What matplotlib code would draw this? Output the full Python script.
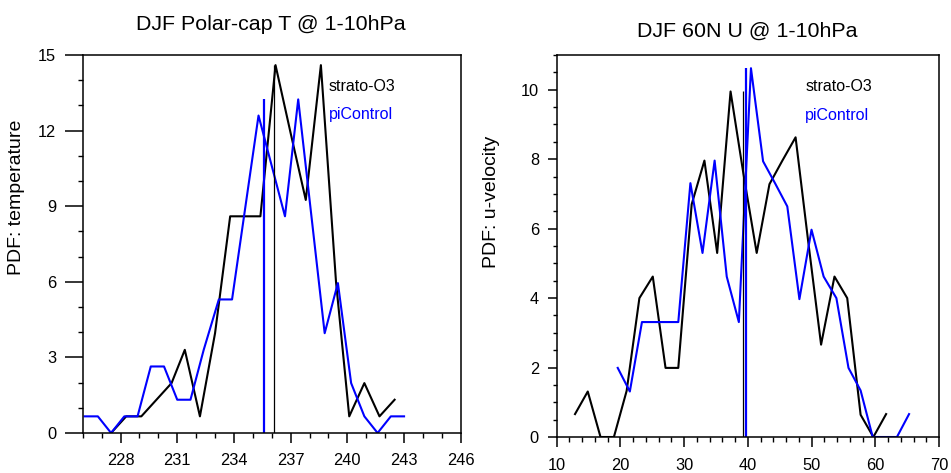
import matplotlib

matplotlib.use("Agg")
import matplotlib.pyplot as plt
import numpy as np

plt.rcParams["font.family"] = ["Liberation Sans", "DejaVu Sans"]

# left panel: DJF polar-cap temperature PDF
t_o3_x = [227.5, 228.3, 229.1, 229.9, 230.7, 231.4, 232.2, 233.0, 233.8, 234.6,
          235.4, 236.2, 237.0, 237.8, 238.6, 239.4, 240.1, 240.9, 241.7, 242.5]
t_o3_y = [0, 0.66, 0.66, 1.32, 1.98, 3.3, 0.66, 3.96, 8.6, 8.6,
          8.6, 14.6, 11.9, 9.25, 14.6, 6.0, 0.66, 1.98, 0.66, 1.32]
t_pi_x = [226.1, 226.8, 227.5, 228.2, 228.9, 229.6, 230.3, 231.0, 231.7, 232.4,
          233.2, 233.9, 234.6, 235.3, 236.0, 236.7, 237.4, 238.1, 238.8, 239.5,
          240.2, 240.9, 241.6, 242.3, 243.0]
t_pi_y = [0.66, 0.66, 0, 0.66, 0.66, 2.64, 2.64, 1.32, 1.32, 3.3,
          5.3, 5.3, 8.95, 12.6, 10.6, 8.6, 13.24, 8.6, 3.96, 5.95,
          1.98, 0.66, 0, 0.66, 0.66]
t_means = [236.1, 235.6]  # strato-O3, piControl

# right panel: DJF 60N zonal wind PDF
u_o3_x = [12.9, 14.9, 16.9, 19.0, 21.0, 23.0, 25.1, 27.1, 29.1, 31.2,
          33.2, 35.2, 37.3, 39.3, 41.4, 43.4, 45.4, 47.5, 49.5, 51.5,
          53.6, 55.6, 57.7, 59.7, 61.7]
u_o3_y = [0.66, 1.31, 0, 0, 1.33, 4.0, 4.62, 1.99, 1.99, 6.7,
          7.96, 5.3, 9.95, 7.6, 5.3, 7.28, 7.95, 8.63, 5.6, 2.66,
          4.62, 4.0, 0.64, 0, 0.66]
u_pi_x = [19.6, 21.5, 23.4, 25.3, 27.2, 29.1, 31.0, 32.9, 34.8, 36.7,
          38.6, 40.5, 42.4, 44.3, 46.2, 48.1, 50.0, 51.9, 53.9, 55.8,
          57.7, 59.6, 61.5, 63.4, 65.3]
u_pi_y = [1.99, 1.31, 3.31, 3.31, 3.31, 3.31, 7.31, 5.3, 7.96, 4.62,
          3.31, 10.62, 7.94, 7.3, 6.64, 3.97, 5.97, 4.62, 4.0, 1.99,
          1.34, 0, 0, 0, 0.66]
u_means = [39.25, 39.67]

BLUE = "#0000ff"

fig = plt.figure(figsize=(9.51, 4.73), dpi=100)
axL = fig.add_axes([0.087, 0.0846, 0.3975, 0.799])
axR = fig.add_axes([0.5852, 0.0761, 0.4022, 0.8076])


def draw(ax, xo, yo, xp, yp, means):
    ax.plot(xo, yo, color="black", lw=1.5)
    ax.plot(xp, yp, color=BLUE, lw=1.5)
    ax.vlines(means[0], 0, max(yo), color="black", lw=0.9)
    ax.vlines(means[1], 0, max(yp), color=BLUE, lw=1.6)
    for s in ax.spines.values():
        s.set_linewidth(1.1)
    ax.text(0.65, 0.917, "strato-O3", transform=ax.transAxes, fontsize=11.5,
            color="black", va="center")
    ax.text(0.65, 0.842, "piControl", transform=ax.transAxes, fontsize=11.5,
            color=BLUE, va="center")
    ax.tick_params(labelsize=11.8, direction="out")


draw(axL, t_o3_x, t_o3_y, t_pi_x, t_pi_y, t_means)
axL.set_xlim(226, 246)
axL.set_ylim(0, 15)
axL.set_xticks(range(228, 247, 3))
axL.set_xticks(range(226, 247), minor=True)
axL.set_yticks(range(0, 16, 3))
axL.set_yticks(range(0, 16), minor=True)
axL.tick_params(axis="x", which="major", length=7.2, width=1.1, pad=7)
axL.tick_params(axis="x", which="minor", length=3.6, width=1.0)
axL.tick_params(axis="y", which="major", length=13, width=1.1, pad=6)
axL.tick_params(axis="y", which="minor", length=3.6, width=1.0)

draw(axR, u_o3_x, u_o3_y, u_pi_x, u_pi_y, u_means)
axR.set_xlim(10, 70)
axR.set_ylim(0, 11)
axR.set_xticks(range(10, 71, 10))
axR.set_xticks(range(10, 71, 2), minor=True)
axR.set_yticks(range(0, 11, 2))
axR.set_yticks(np.arange(0, 11.01, 0.5), minor=True)
axR.tick_params(axis="x", which="major", length=7.2, width=1.1, pad=8)
axR.tick_params(axis="x", which="minor", length=3.6, width=1.0)
axR.tick_params(axis="y", which="major", length=6.7, width=1.1, pad=6)
axR.tick_params(axis="y", which="minor", length=3.1, width=1.0)

fig.text(271 / 951, 1 - 25 / 473, "DJF Polar-cap T @ 1-10hPa", fontsize=15.4,
         ha="center", va="center")
fig.text(747 / 951, 1 - 31.5 / 473, "DJF 60N U @ 1-10hPa", fontsize=15.4,
         ha="center", va="center")
fig.text(17 / 951, 1 - 197 / 473, "PDF: temperature", fontsize=14,
         rotation=90, ha="center", va="center")
fig.text(491 / 951, 1 - 202 / 473, "PDF: u-velocity", fontsize=14,
         rotation=90, ha="center", va="center")

fig.savefig("out.png", dpi=100, facecolor="white")
